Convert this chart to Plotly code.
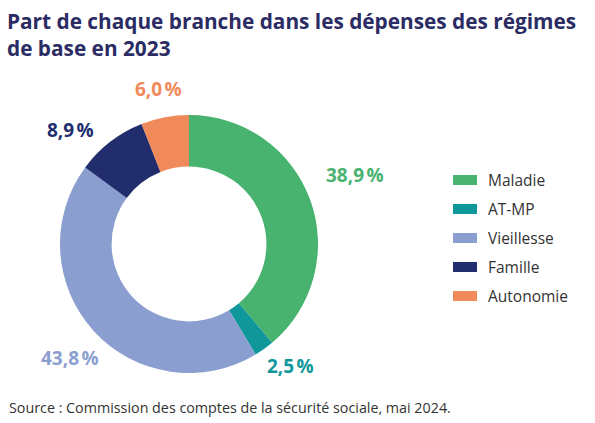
import plotly.graph_objects as go

W, H = 595, 423

branches = ["Maladie", "AT-MP", "Vieillesse", "Famille", "Autonomie"]
shares = [38.9, 2.5, 43.8, 8.9, 6.0]
share_labels = ["38,9\u202f%", "2,5\u202f%", "43,8\u202f%", "8,9\u202f%", "6,0\u202f%"]
colors = ["#48b26f", "#10979a", "#8b9ed0", "#222d6d", "#f08a5b"]

# label centres in px (layout only)
label_px = [(355, 175), (290, 366), (70, 358), (70, 130), (158, 89)]


def px(x, y):
    return x / W, 1 - y / H


fig = go.Figure(go.Pie(
    labels=branches,
    values=shares,
    marker=dict(colors=colors, line=dict(width=0)),
    hole=0.6,
    sort=False,
    direction="clockwise",
    rotation=0,
    textinfo="none",
    hoverinfo="label+percent",
    showlegend=False,
    domain=dict(x=[60 / W, 318 / W], y=[50 / H, 308 / H]),
))

annotations = []
for (lx, ly), txt, col in zip(label_px, share_labels, colors):
    x, y = px(lx, ly)
    annotations.append(dict(
        x=x, y=y, xref="paper", yref="paper", text=f"<b>{txt}</b>",
        showarrow=False, xanchor="center", yanchor="middle",
        font=dict(size=19, color=col, family="Open Sans")))

# hand made legend, wide swatches like the original
shapes = []
for i, (name, col) in enumerate(zip(branches, colors)):
    yc = 180 + 29 * i
    x0, y0 = px(453, yc - 5)
    x1, y1 = px(477, yc + 5)
    shapes.append(dict(type="rect", xref="paper", yref="paper",
                       x0=x0, x1=x1, y0=y1, y1=y0,
                       fillcolor=col, line=dict(width=0)))
    tx, ty = px(486, yc)
    annotations.append(dict(
        x=tx, y=ty, xref="paper", yref="paper", text=name,
        showarrow=False, xanchor="left", yanchor="middle",
        font=dict(size=15.5, color="#333333", family="Open Sans")))

sx, sy = px(7, 407)
annotations.append(dict(
    x=sx, y=sy, xref="paper", yref="paper",
    text="Source : Commission des comptes de la sécurité sociale, mai 2024.",
    showarrow=False, xanchor="left", yanchor="middle",
    font=dict(size=14.3, color="#333333", family="Open Sans")))

tx, ty = px(5, 5)
annotations.append(dict(
    x=tx, y=ty, xref="paper", yref="paper",
    text="<b>Part de chaque branche dans les dépenses des régimes<br>de base en 2023</b>",
    showarrow=False, xanchor="left", yanchor="top", align="left",
    font=dict(size=20.8, color="#2b2c63", family="Open Sans")))

fig.update_layout(
    width=W, height=H,
    margin=dict(l=0, r=0, t=0, b=0),
    paper_bgcolor="white",
    plot_bgcolor="white",
    annotations=annotations,
    shapes=shapes,
)

fig.write_html("out.html", config={"displayModeBar": False},
               post_script="document.body.style.margin='0';")
